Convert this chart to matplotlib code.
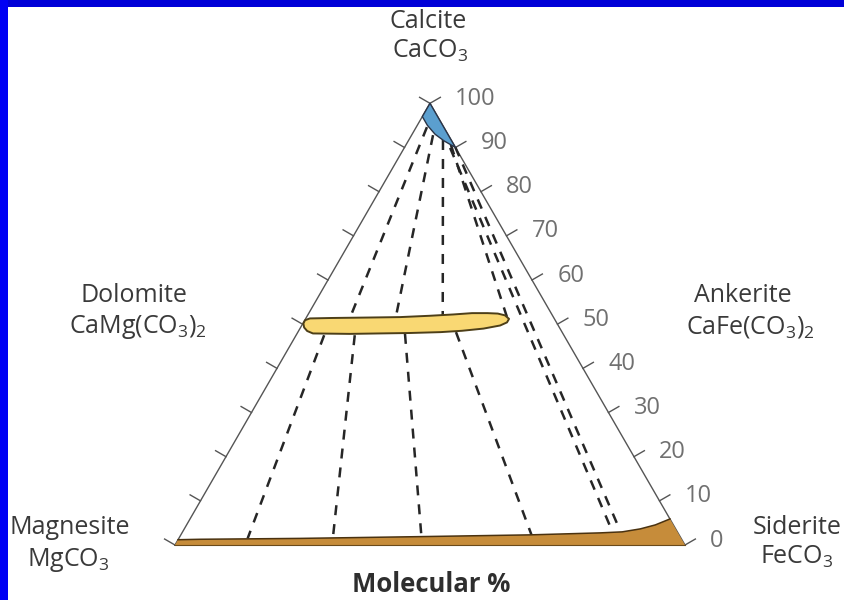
import numpy as np
import matplotlib
matplotlib.use("Agg")
import matplotlib.pyplot as plt
from matplotlib.patches import Polygon, Rectangle

plt.rcParams["font.family"] = ["Open Sans", "DejaVu Sans"]
plt.rcParams["mathtext.default"] = "regular"

# ---- compositions in mol % (CaCO3, FeCO3); MgCO3 is the remainder ----
tick_values = [0, 10, 20, 30, 40, 50, 60, 70, 80, 90, 100]

calcite_ca = [100, 97.0, 95.0, 93.0, 91.5, 90.0]
calcite_fe = [0, 0.0, 2.0, 4.5, 7.0, 10.0]

dol_ank_ca = [51.3, 51.4, 51.5, 51.6, 51.9, 52.2, 52.5, 52.5, 52.4, 52.0, 51.2,
              50.4, 49.7, 49.0, 48.5, 48.2, 48.0, 47.9, 47.8, 47.9, 48.45, 49.25, 50.15, 50.9]
dol_ank_fe = [0.8, 5.0, 12.0, 18.3, 24.0, 28.5, 32.0, 35.0, 37.1, 38.7, 39.9,
              39.9, 38.9, 36.0, 32.0, 28.0, 22.0, 16.0, 10.4, 3.1, 1.7, 0.7, 0.1, 0.05]

mag_sid_ca = [1.2, 1.3, 1.5, 1.9, 2.3, 2.75, 2.98, 3.65, 4.55, 5.9]
mag_sid_fe = [0.0, 4.3, 23.8, 47.1, 68.5, 82.0, 86.2, 89.4, 91.9, 94.1]

# tie lines: start (Ca, Fe) -> end (Ca, Fe)
tie_start_ca = [94.6, 92.8, 91.7, 90.6, 90.1, 89.9, 47.5, 47.5, 47.8, 48.2]
tie_start_fe = [2.1, 4.2, 6.7, 8.8, 9.9, 9.0, 5.5, 11.5, 21.2, 31.0]
tie_end_ca = [51.4, 51.6, 51.8, 51.6, 3.2, 3.2, 1.5, 1.5, 1.5, 2.0]
tie_end_fe = [8.6, 17.5, 26.6, 39.3, 85.7, 84.1, 13.5, 30.2, 47.6, 69.0]

H = np.sqrt(3) / 2


def tern(ca, fe):
    ca = np.asarray(ca, float)
    fe = np.asarray(fe, float)
    return fe + ca / 2, ca * H


W, Hpx = 844, 600
fig = plt.figure(figsize=(W / 100, Hpx / 100), dpi=100)
fig.patch.set_facecolor("white")
ax = fig.add_axes([0, 0, 1, 1])
ax.set_xlim(-34.31, 131.18)
ax.set_ylim(-10.78, 106.86)
ax.axis("off")

edge_col = "#555555"

# triangle frame
tx, ty = tern([0, 0, 100, 0], [0, 100, 0, 0])
ax.plot(tx, ty, color=edge_col, lw=1.0, zorder=2, solid_joinstyle="miter")

# ticks on both inclined sides
tick_len = 2.35
tv = np.array(tick_values, float)
rx, ry = tern(tv, 100 - tv)          # Ca-Fe side
lx, ly = tern(tv, np.zeros_like(tv))  # Ca-Mg side
for x0, y0 in zip(rx, ry):
    ax.plot([x0, x0 + tick_len * H], [y0, y0 + tick_len * 0.5], color=edge_col, lw=1.0, zorder=2)
for x0, y0 in zip(lx, ly):
    ax.plot([x0, x0 - tick_len * H], [y0, y0 + tick_len * 0.5], color=edge_col, lw=1.0, zorder=2)
for v, x0, y0 in zip(tick_values, rx, ry):
    ax.text(x0 + tick_len * H + 2.9, y0 + tick_len * 0.5 - 0.3, str(v),
            ha="left", va="center", fontsize=17, color="#707070")

# tie lines
for sc, sf, ec, ef in zip(tie_start_ca, tie_start_fe, tie_end_ca, tie_end_fe):
    xs, ys = tern([sc, ec], [sf, ef])
    ax.plot(xs, ys, color="#262626", lw=1.8, ls=(0, (4.0, 3.6)), zorder=3)

# magnesite-siderite series along the base
bx, by = tern(mag_sid_ca, mag_sid_fe)
origin = tuple(np.array(tern(0, 0)).ravel())
fe_corner = tuple(np.array(tern(0, 100)).ravel())
poly = [origin] + list(zip(bx, by)) + [fe_corner]
ax.add_patch(Polygon(poly, closed=True, facecolor="#c68c3a", edgecolor="none", zorder=4))
ax.plot(bx, by, color="#4a3210", lw=1.1, zorder=5)
ax.plot([origin[0], fe_corner[0]], [origin[1], fe_corner[1]], color="#6a4a1a", lw=0.8, zorder=5)

# dolomite-ankerite field
dx, dy = tern(dol_ank_ca, dol_ank_fe)
ax.add_patch(Polygon(list(zip(dx, dy)), closed=True, facecolor="#f9d873",
                     edgecolor="#4d3f18", lw=1.4, joinstyle="round", zorder=5))

# calcite field
cx, cy = tern(calcite_ca, calcite_fe)
ax.add_patch(Polygon(list(zip(cx, cy)), closed=True, facecolor="#5b9fcf",
                     edgecolor="#2a3447", lw=1.0, joinstyle="round", zorder=5))

# end-member names
name_col = "#3a3a3a"
fs = 18


def label(x, y, s, **kw):
    fig.text(x / W, 1 - y / Hpx, s, ha="center", va="baseline", fontsize=kw.pop("fontsize", fs),
             color=kw.pop("color", name_col), **kw)


label(428, 28, "Calcite")
label(430, 58, "CaCO$_{3}$")
label(134, 302, "Dolomite")
label(138, 333, "CaMg(CO$_{3}$)$_{2}$")
label(743, 302, "Ankerite")
label(750, 333, "CaFe(CO$_{3}$)$_{2}$")
label(70, 534, "Magnesite")
label(68, 566, "MgCO$_{3}$")
label(797, 534, "Siderite")
label(797, 564, "FeCO$_{3}$")
label(431, 592, "Molecular %", fontsize=18.5, fontweight="bold", color="#2e2e2e")

# slide frame bands
fig.patches.append(Rectangle((0, 1 - 7 / Hpx), 1, 7 / Hpx, transform=fig.transFigure,
                             facecolor="#0000d8", edgecolor="none", zorder=10))
fig.patches.append(Rectangle((0, 0), 8 / W, 1, transform=fig.transFigure,
                             facecolor="#0000f4", edgecolor="none", zorder=10))

fig.savefig("out.png", dpi=100, facecolor="white")
